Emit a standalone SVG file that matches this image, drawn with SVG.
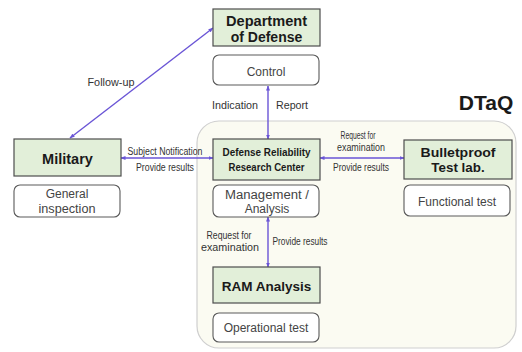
<svg xmlns="http://www.w3.org/2000/svg" width="522" height="352" viewBox="0 0 522 352">
<defs>
<style>
.g{fill:#e2efd9;stroke:#4d4d4d;stroke-width:1.2}
.w{fill:#ffffff;stroke:#5a5a5a;stroke-width:1.1}
.tb{font-family:"Liberation Sans",Arial,sans-serif;font-weight:bold;fill:#1a1a1a;text-anchor:middle}
.t{font-family:"Liberation Sans",Arial,sans-serif;fill:#444;text-anchor:middle;font-size:12px}
.s{font-family:"Liberation Sans",Arial,sans-serif;fill:#333;text-anchor:middle;font-size:10px}
.c{stroke:#6a55d6;stroke-width:1.4;fill:none;marker-start:url(#ah);marker-end:url(#ah)}
</style>
<marker id="ah" viewBox="0 0 10 10" refX="9" refY="5" markerWidth="5" markerHeight="5" markerUnits="userSpaceOnUse" orient="auto-start-reverse">
<path d="M0,1 L10,5 L0,9 Z" fill="#6a55d6"/>
</marker>
</defs>
<rect width="522" height="352" fill="#ffffff"/>
<g id="dtaq">
<rect x="197" y="121" width="319" height="227" rx="22" fill="#fbfbf2" stroke="#cfcfcf" stroke-width="1.2"/>
<text class="tb" x="486" y="110" font-size="21">DTaQ</text>
</g>
<g id="connectors">
<line class="c" x1="268" y1="86" x2="268" y2="139"/>
<line class="c" x1="268" y1="217" x2="268" y2="267"/>
<line class="c" x1="121" y1="158" x2="213" y2="158"/>
<line class="c" x1="320" y1="158" x2="404" y2="158"/>
<line class="c" x1="70" y1="138" x2="213" y2="28"/>
<text class="s" x="111" y="86" font-size="10.5" textLength="47" lengthAdjust="spacingAndGlyphs">Follow-up</text>
<text class="s" x="235" y="109" font-size="10.5" textLength="46" lengthAdjust="spacingAndGlyphs">Indication</text>
<text class="s" x="292" y="109" font-size="10.5" textLength="32" lengthAdjust="spacingAndGlyphs">Report</text>
<text class="s" x="165" y="154.5" textLength="75" lengthAdjust="spacingAndGlyphs">Subject Notification</text>
<text class="s" x="165" y="170.5" textLength="58" lengthAdjust="spacingAndGlyphs">Provide results</text>
<text class="s" x="358" y="138.5" textLength="35" lengthAdjust="spacingAndGlyphs">Request for</text>
<text class="s" x="361" y="150.5" textLength="48" lengthAdjust="spacingAndGlyphs">examination</text>
<text class="s" x="361" y="170.5" textLength="56" lengthAdjust="spacingAndGlyphs">Provide results</text>
<text class="s" x="229" y="238.5" textLength="45" lengthAdjust="spacingAndGlyphs">Request for</text>
<text class="s" x="230" y="250.5" textLength="58" lengthAdjust="spacingAndGlyphs">examination</text>
<text class="s" x="300" y="244.5" textLength="55" lengthAdjust="spacingAndGlyphs">Provide results</text>
</g>
<g id="dod">
<rect class="g" x="213" y="9" width="107" height="37"/>
<text class="tb" x="266.5" y="26" font-size="14" textLength="81" lengthAdjust="spacingAndGlyphs">Department</text>
<text class="tb" x="266.5" y="42" font-size="14">of Defense</text>
</g>
<g id="control">
<rect class="w" x="213" y="55" width="106" height="30" rx="6"/>
<text class="t" x="266" y="75.5" font-size="12.5">Control</text>
</g>
<g id="military">
<rect class="g" x="14" y="139" width="107" height="37"/>
<text class="tb" x="67.5" y="164" font-size="14.5">Military</text>
</g>
<g id="general">
<rect class="w" x="14" y="185" width="106" height="32" rx="6"/>
<text class="t" x="67" y="197.5">General</text>
<text class="t" x="67" y="213" textLength="57" lengthAdjust="spacingAndGlyphs">inspection</text>
</g>
<g id="drrc">
<rect class="g" x="213" y="139" width="107" height="41"/>
<text class="tb" x="266.5" y="156" font-size="11" textLength="88" lengthAdjust="spacingAndGlyphs">Defense Reliability</text>
<text class="tb" x="266.5" y="171" font-size="11" textLength="76" lengthAdjust="spacingAndGlyphs">Research Center</text>
</g>
<g id="management">
<rect class="w" x="213" y="185" width="106" height="32" rx="6"/>
<text class="t" x="267" y="199" textLength="84" lengthAdjust="spacingAndGlyphs">Management /</text>
<text class="t" x="267" y="213">Analysis</text>
</g>
<g id="bulletproof">
<rect class="g" x="404" y="140" width="108" height="39"/>
<text class="tb" x="458" y="157" font-size="13.4" textLength="75" lengthAdjust="spacingAndGlyphs">Bulletproof</text>
<text class="tb" x="458" y="172" font-size="13.4">Test lab.</text>
</g>
<g id="functional">
<rect class="w" x="404" y="185" width="106" height="31" rx="6"/>
<text class="t" x="457" y="205.5" font-size="12.5">Functional test</text>
</g>
<g id="ram">
<rect class="g" x="213" y="267" width="107" height="36"/>
<text class="tb" x="266.5" y="291" font-size="13.5">RAM Analysis</text>
</g>
<g id="operational">
<rect class="w" x="213" y="313" width="106" height="29" rx="6"/>
<text class="t" x="266" y="332" font-size="12.5">Operational test</text>
</g>
</svg>
